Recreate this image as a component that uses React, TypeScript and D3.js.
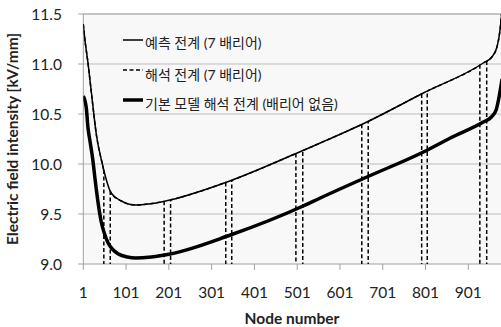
import React from "react";
import * as d3 from "d3";

const W = 501;
const H = 327;

const xTicks = [1, 101, 201, 301, 401, 501, 601, 701, 801, 901];
const yTicks = [9.0, 9.5, 10.0, 10.5, 11.0, 11.5];

// 예측 전계 (7 배리어) – predicted field
const predNodes = [1, 4, 12, 20, 32, 45, 53, 66, 90, 122, 153, 183, 204, 337, 501, 555, 664, 796, 936, 956, 968, 976, 980];
const predValues = [11.4, 11.27, 11.01, 10.71, 10.28, 10.01, 9.87, 9.71, 9.63, 9.59, 9.6, 9.62, 9.64, 9.82, 10.11, 10.21, 10.42, 10.71, 11.01, 11.07, 11.17, 11.37, 11.55];

// 해석 전계 (7 배리어) – analysis field, drops inside barriers
const anaNodes = predNodes;
const anaValues = predValues;
const barrierStart = [49, 190, 334, 498, 652, 792, 928];
const barrierEnd = [64, 205, 348, 514, 667, 805, 944];
const barrierInsideValue = 8.0;

// 기본 모델 해석 전계 (배리어 없음)
const baseNodes = [1, 8, 12, 17, 23, 29, 36, 43, 50, 59, 71, 83, 104, 123, 160, 204, 345, 515, 555, 664, 796, 859, 936, 955, 966, 972, 980];
const baseValues = [10.68, 10.56, 10.36, 10.22, 10.05, 9.83, 9.6, 9.42, 9.31, 9.21, 9.14, 9.1, 9.07, 9.06, 9.07, 9.1, 9.29, 9.58, 9.66, 9.87, 10.12, 10.26, 10.42, 10.47, 10.54, 10.65, 10.85];

const legendLabels = ["예측 전계 (7 배리어)", "해석 전계 (7 배리어)", "기본 모델 해석 전계 (배리어 없음)"];

const FONT = "Lato, 'Noto Sans CJK KR', sans-serif";

export default function App() {
  const left = 83.3;
  const top = 14;
  const bottom = 264;
  const right = W;

  const x = d3.scaleLinear().domain([1, 901]).range([83.3, 468.3]);
  const y = d3.scaleLinear().domain([9.0, 11.5]).range([bottom, top]);

  const line = d3
    .line<[number, number]>()
    .x((d) => x(d[0]))
    .y((d) => y(d[1]))
    .curve(d3.curveMonotoneX);

  const predPts: [number, number][] = predNodes.map((n, i) => [n, predValues[i]]);
  const anaPts: [number, number][] = anaNodes.map((n, i) => [n, anaValues[i]]);
  const basePts: [number, number][] = baseNodes.map((n, i) => [n, baseValues[i]]);

  const anaInterp = d3.scaleLinear().domain(anaNodes).range(anaValues);

  const gapRects = [] as { x0: number; x1: number }[];
  let prev = left;
  barrierStart.forEach((s, i) => {
    gapRects.push({ x0: prev, x1: x(s) });
    prev = x(barrierEnd[i]);
  });
  gapRects.push({ x0: prev, x1: right });

  return (
    <svg
      width={W}
      height={H}
      style={{ position: "absolute", left: 0, top: 0, background: "#fff" }}
      fontFamily={FONT}
    >
      <defs>
        <clipPath id="plot">
          <rect x={left} y={top} width={right - left} height={bottom - top} />
        </clipPath>
        <clipPath id="gaps">
          {gapRects.map((r, i) => (
            <rect key={i} x={r.x0} y={top} width={r.x1 - r.x0} height={bottom - top} />
          ))}
        </clipPath>
      </defs>

      <rect x={left} y={top} width={right - left} height={bottom - top} fill="#f8f8f8" />

      {yTicks.slice(1, -1).map((t) => (
        <line key={t} x1={left} x2={right} y1={y(t)} y2={y(t)} stroke="#bdbdbd" strokeWidth={1} />
      ))}
      <line x1={left} x2={right} y1={top} y2={top} stroke="#8a8a8a" strokeWidth={1} />
      <line x1={left} x2={left} y1={top} y2={bottom} stroke="#a0a0a0" strokeWidth={1} />
      <line x1={left} x2={right} y1={bottom} y2={bottom} stroke="#a0a0a0" strokeWidth={1} />

      {yTicks.map((t) => (
        <g key={t}>
          <line x1={left - 5} x2={left} y1={y(t)} y2={y(t)} stroke="#a0a0a0" />
          <text x={62} y={y(t) + 5.5} textAnchor="end" fontSize={15.5} fill="#222">
            {t.toFixed(1)}
          </text>
        </g>
      ))}
      {xTicks.map((t) => (
        <g key={t}>
          <line x1={x(t)} x2={x(t)} y1={bottom} y2={bottom + 6} stroke="#a0a0a0" />
          <text x={x(t)} y={298} textAnchor="middle" fontSize={15.5} fill="#222">
            {t}
          </text>
        </g>
      ))}

      <g clipPath="url(#plot)">
        <path d={line(predPts) || ""} fill="none" stroke="#000" strokeWidth={1.5} />
        <g clipPath="url(#gaps)">
          <path d={line(anaPts) || ""} fill="none" stroke="#000" strokeWidth={1.5} strokeDasharray="4,2.5" />
        </g>
        {barrierStart.map((s, i) => {
          const e = barrierEnd[i];
          return (
            <g key={i}>
              <line x1={x(s)} x2={x(s)} y1={y(anaInterp(s))} y2={y(barrierInsideValue)} stroke="#000" strokeWidth={1.5} strokeDasharray="4,2.5" />
              <line x1={x(e)} x2={x(e)} y1={y(barrierInsideValue)} y2={y(anaInterp(e))} stroke="#000" strokeWidth={1.5} strokeDasharray="4,2.5" />
            </g>
          );
        })}
        <path d={line(basePts) || ""} fill="none" stroke="#000" strokeWidth={3.5} />
      </g>

      {/* legend */}
      <line x1={123} x2={143} y1={40} y2={40} stroke="#000" strokeWidth={1.5} />
      <text x={145} y={48} fontSize={14} fill="#222">{legendLabels[0]}</text>
      <line x1={123} x2={143} y1={70} y2={70} stroke="#000" strokeWidth={1.5} strokeDasharray="4,2.5" />
      <text x={145} y={80} fontSize={14} fill="#222">{legendLabels[1]}</text>
      <line x1={123} x2={143} y1={100} y2={100} stroke="#000" strokeWidth={3.5} />
      <text x={145} y={109} fontSize={14} fill="#222">{legendLabels[2]}</text>

      <text
        transform={`translate(18, ${(top + bottom) / 2}) rotate(-90)`}
        textAnchor="middle"
        fontSize={15.5}
        fontWeight="bold"
        fill="#222"
      >
        Electric field intensity [kV/mm]
      </text>
      <text x={292} y={324} textAnchor="middle" fontSize={15.5} fontWeight="bold" fill="#222">
        Node number
      </text>
    </svg>
  );
}
